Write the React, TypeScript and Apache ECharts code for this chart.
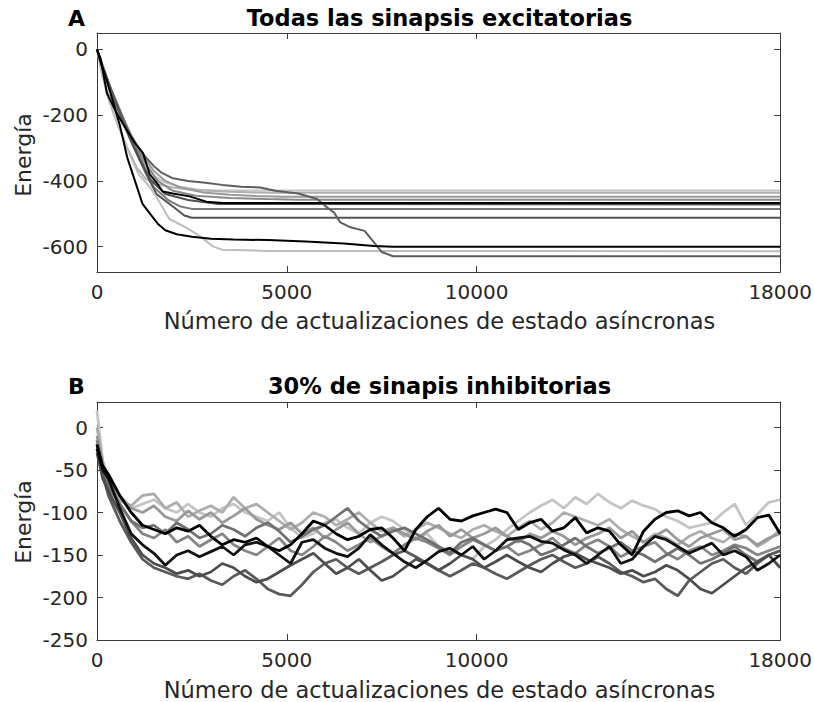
import React, { useEffect, useRef } from "react";
import * as echarts from "echarts";

// ---------- Panel A: all excitatory synapses ----------
const aBlackLow: number[][] = [[0,0],[100,-40],[250,-90],[400,-150],[600,-230],[800,-330],[1000,-400],[1200,-470],[1400,-500],[1600,-530],[1800,-550],[2100,-562],[2500,-570],[3000,-576],[3600,-578],[4500,-580],[5500,-584],[6500,-590],[7300,-598],[7800,-600],[18000,-600]];
const aDarkLong: number[][] = [[0,0],[150,-60],[300,-110],[500,-170],[700,-220],[900,-265],[1100,-300],[1300,-330],[1500,-355],[1700,-375],[2000,-392],[2400,-400],[2800,-405],[3300,-412],[3800,-418],[4300,-420],[4700,-430],[5300,-438],[5800,-455],[6000,-475],[6250,-497],[6400,-525],[6650,-540],[7050,-552],[7250,-580],[7500,-616],[7800,-629],[18000,-629]];
const aLightLow: number[][] = [[0,0],[100,-50],[250,-120],[450,-200],[700,-270],[900,-330],[1100,-380],[1400,-420],[1600,-455],[1900,-515],[2350,-542],[2700,-567],[3050,-599],[3300,-609],[4500,-613],[18000,-614]];
const aDark512: number[][] = [[0,0],[150,-55],[300,-100],[500,-160],[700,-220],[900,-280],[1100,-330],[1300,-380],[1570,-440],[2000,-478],[2300,-505],[2500,-512],[18000,-512]];
const aGray485: number[][] = [[0,0],[150,-50],[350,-115],[600,-185],[850,-255],[1100,-320],[1300,-370],[1500,-420],[1900,-460],[2200,-478],[2500,-485],[18000,-485]];
const aBlackUp: number[][] = [[0,0],[100,-30],[260,-133],[500,-190],[780,-244],[1000,-285],[1210,-315],[1390,-380],[1570,-405],[1730,-432],[2000,-438],[2440,-447],[2880,-463],[3310,-467],[18000,-467]];
const aDark472: number[][] = [[0,0],[150,-55],[350,-125],[600,-195],[850,-265],[1100,-330],[1400,-395],[1800,-440],[2400,-458],[3200,-470],[18000,-472]];
const aGray448: number[][] = [[0,0],[150,-50],[350,-120],[600,-190],[900,-260],[1200,-320],[1500,-370],[1800,-400],[2200,-420],[2800,-435],[3500,-442],[4200,-446],[4900,-448],[18000,-448]];
const aLight429: number[][] = [[0,0],[150,-60],[350,-140],[600,-210],[900,-280],[1200,-340],[1500,-385],[1800,-405],[2200,-418],[2700,-427],[3200,-429],[18000,-429]];
const aLight436: number[][] = [[0,0],[120,-70],[300,-150],[550,-230],[800,-300],[1050,-360],[1300,-395],[1600,-410],[2000,-420],[2600,-428],[3500,-433],[4500,-436],[18000,-436]];
const aGray457: number[][] = [[0,0],[150,-50],[400,-130],[700,-210],[1000,-290],[1300,-350],[1600,-400],[2000,-430],[2600,-445],[3500,-452],[4500,-455],[5300,-457],[18000,-457]];

const aSeries = [
  { data: aLight429, color: "#c4c4c4" },
  { data: aLight436, color: "#b0b0b0" },
  { data: aGray448, color: "#9a9a9a" },
  { data: aGray457, color: "#8a8a8a" },
  { data: aGray485, color: "#787878" },
  { data: aDark512, color: "#555555" },
  { data: aDark472, color: "#505050" },
  { data: aLightLow, color: "#bdbdbd" },
  { data: aDarkLong, color: "#5e5e5e" },
  { data: aBlackUp, color: "#000000" },
  { data: aBlackLow, color: "#000000" },
];

// ---------- Panel B: 30% inhibitory synapses ----------
const bX: number[] = [0,150,300,600,900,1200,1500,1800,2100,2400,2700,3000,3300,3600,3900,4200,4500,4800,5100,5400,5700,6000,6300,6600,6900,7200,7500,7800,8100,8400,8700,9000,9300,9600,9900,10200,10500,10800,11100,11400,11700,12000,12300,12600,12900,13200,13500,13800,14100,14400,14700,15000,15300,15600,15900,16200,16500,16800,17100,17400,17700,18000];
const b1: number[] = [-20,-45,-55,-80,-100,-115,-120,-125,-118,-122,-115,-128,-138,-132,-135,-130,-140,-145,-138,-125,-110,-115,-125,-132,-128,-120,-118,-130,-145,-120,-105,-95,-108,-110,-104,-100,-96,-100,-120,-112,-108,-122,-118,-106,-124,-118,-122,-138,-150,-122,-108,-100,-98,-104,-100,-112,-118,-128,-120,-106,-103,-125];
const b2: number[] = [-25,-50,-60,-95,-125,-138,-148,-162,-150,-145,-152,-146,-140,-150,-138,-135,-140,-150,-160,-135,-132,-142,-148,-152,-142,-126,-138,-148,-158,-165,-156,-146,-142,-150,-140,-155,-145,-132,-130,-128,-134,-136,-144,-150,-160,-150,-140,-160,-155,-140,-128,-132,-140,-148,-142,-136,-150,-145,-152,-168,-160,-150];
const b3: number[] = [20,-40,-65,-85,-95,-90,-85,-95,-100,-90,-100,-105,-95,-90,-100,-105,-110,-100,-118,-130,-125,-112,-108,-118,-125,-112,-105,-110,-120,-130,-125,-140,-145,-150,-155,-140,-132,-120,-110,-100,-92,-85,-95,-82,-90,-78,-88,-95,-86,-92,-96,-105,-110,-118,-115,-112,-100,-90,-115,-102,-88,-85];
const b4: number[] = [0,-40,-60,-85,-92,-80,-78,-95,-88,-105,-98,-92,-100,-82,-95,-90,-100,-110,-120,-112,-100,-105,-115,-108,-100,-112,-122,-118,-128,-120,-112,-118,-125,-130,-120,-115,-122,-128,-118,-110,-120,-112,-100,-105,-110,-115,-108,-120,-128,-135,-125,-130,-138,-128,-122,-130,-135,-125,-128,-140,-132,-120];
const b5: number[] = [-10,-45,-60,-80,-95,-100,-92,-105,-110,-98,-108,-100,-112,-104,-95,-108,-115,-120,-112,-125,-118,-130,-120,-112,-125,-135,-128,-118,-125,-132,-122,-115,-128,-120,-130,-125,-118,-128,-135,-125,-130,-122,-128,-138,-130,-125,-118,-130,-122,-135,-128,-120,-132,-140,-130,-125,-120,-132,-128,-138,-130,-125];
const b6: number[] = [-15,-50,-65,-90,-110,-125,-130,-120,-135,-128,-140,-132,-125,-138,-145,-150,-140,-130,-145,-150,-140,-128,-135,-145,-138,-130,-140,-148,-138,-130,-135,-142,-150,-140,-132,-138,-145,-140,-150,-145,-138,-130,-142,-148,-138,-132,-140,-152,-145,-140,-135,-148,-155,-145,-140,-150,-145,-138,-142,-150,-145,-140];
const b7: number[] = [-20,-55,-80,-110,-135,-155,-165,-170,-175,-178,-172,-180,-185,-175,-168,-178,-190,-196,-198,-185,-170,-160,-155,-165,-172,-165,-158,-150,-145,-152,-160,-168,-175,-168,-160,-165,-172,-178,-170,-162,-155,-150,-158,-165,-160,-152,-160,-170,-175,-182,-178,-190,-198,-180,-170,-160,-155,-165,-172,-160,-150,-145];
const b8: number[] = [-30,-60,-75,-100,-130,-150,-160,-165,-172,-168,-175,-170,-160,-165,-175,-182,-178,-170,-162,-155,-148,-160,-172,-165,-155,-168,-180,-175,-165,-155,-160,-168,-160,-150,-155,-165,-158,-150,-158,-165,-170,-160,-152,-148,-155,-160,-165,-172,-168,-175,-170,-162,-168,-178,-190,-195,-185,-175,-165,-158,-150,-165];
const b9: number[] = [-25,-50,-70,-90,-110,-118,-115,-125,-112,-120,-130,-125,-115,-120,-128,-118,-112,-122,-135,-128,-120,-115,-105,-95,-110,-120,-128,-122,-118,-125,-132,-140,-148,-135,-130,-138,-145,-140,-132,-138,-150,-145,-138,-130,-140,-148,-142,-135,-145,-150,-158,-150,-142,-150,-160,-155,-148,-140,-150,-158,-150,-145];

const bSeries = [
  { data: b3, color: "#c4c4c4" },
  { data: b4, color: "#adadad" },
  { data: b5, color: "#999999" },
  { data: b6, color: "#858585" },
  { data: b9, color: "#707070" },
  { data: b7, color: "#5a5a5a" },
  { data: b8, color: "#4d4d4d" },
  { data: b2, color: "#111111" },
  { data: b1, color: "#000000" },
];

// ---------- Ticks and texts ----------
const xTicks = [0, 5000, 10000, 18000];
const aYTicks = [-600, -400, -200, 0];
const bYTicks = [-250, -200, -150, -100, -50, 0];
const titleA = "Todas las sinapsis excitatorias";
const titleB = "30% de sinapis inhibitorias";
const xName = "Número de actualizaciones de estado asíncronas";
const yName = "Energía";

const FONT = '"DejaVu Sans", sans-serif';
const AXIS_COLOR = "#3a3a3a";
const TEXT_COLOR = "#262626";

function xAx(grid: number, pos: "bottom" | "top") {
  return {
    type: "value",
    gridIndex: grid,
    position: pos,
    min: 0,
    max: 18000,
    axisLine: { show: true, onZero: false, lineStyle: { color: AXIS_COLOR, width: 1 } },
    axisTick: { show: true, inside: true, length: 6, customValues: xTicks, lineStyle: { color: AXIS_COLOR } },
    axisLabel: {
      show: pos === "bottom",
      customValues: xTicks,
      formatter: (v: number) => String(v),
      fontFamily: FONT,
      fontSize: 20,
      color: TEXT_COLOR,
      margin: 10,
    },
    splitLine: { show: false },
  };
}

function yAx(grid: number, pos: "left" | "right", min: number, max: number, ticks: number[]) {
  return {
    type: "value",
    gridIndex: grid,
    position: pos,
    min,
    max,
    axisLine: { show: true, onZero: false, lineStyle: { color: AXIS_COLOR, width: 1 } },
    axisTick: { show: true, inside: true, length: 6, customValues: ticks, lineStyle: { color: AXIS_COLOR } },
    axisLabel: {
      show: pos === "left",
      customValues: ticks,
      formatter: (v: number) => String(v),
      fontFamily: FONT,
      fontSize: 20,
      color: TEXT_COLOR,
      margin: 9,
    },
    splitLine: { show: false },
  };
}

function txt(text: string, x: number, y: number, font: string, fill: string, align = "center", rotation = 0) {
  return {
    type: "text",
    x,
    y,
    rotation,
    silent: true,
    style: { text, font, fill, align, verticalAlign: "middle", textAlign: align, textVerticalAlign: "middle" },
  };
}

export default function App() {
  const ref = useRef<HTMLDivElement>(null);
  useEffect(() => {
    if (!ref.current) return;
    const chart = echarts.init(ref.current, undefined, { renderer: "svg" });
    const series: any[] = [];
    aSeries.forEach((s) =>
      series.push({
        type: "line",
        xAxisIndex: 0,
        yAxisIndex: 0,
        data: s.data,
        showSymbol: false,
        symbol: "none",
        lineStyle: { color: s.color, width: 2 },
        itemStyle: { color: s.color },
        z: 2,
      })
    );
    bSeries.forEach((s) =>
      series.push({
        type: "line",
        xAxisIndex: 2,
        yAxisIndex: 2,
        data: bX.map((x, i) => [x, s.data[i]]),
        showSymbol: false,
        symbol: "none",
        lineStyle: { color: s.color, width: 2.8 },
        itemStyle: { color: s.color },
        z: 2,
      })
    );
    chart.setOption({
      animation: false,
      backgroundColor: "#ffffff",
      grid: [
        { left: 97, top: 33, width: 685, height: 239 },
        { left: 97, top: 402, width: 685, height: 238 },
      ],
      xAxis: [xAx(0, "bottom"), xAx(0, "top"), xAx(1, "bottom"), xAx(1, "top")],
      yAxis: [
        yAx(0, "left", -677, 50, aYTicks),
        yAx(0, "right", -677, 50, aYTicks),
        yAx(1, "left", -250, 30, bYTicks),
        yAx(1, "right", -250, 30, bYTicks),
      ],
      series,
      graphic: [
        txt("A", 68, 18, `bold 22px ${FONT}`, "#000000", "left"),
        txt(titleA, 439.5, 18, `bold 22.5px ${FONT}`, "#000000"),
        txt("B", 68, 386, `bold 22px ${FONT}`, "#000000", "left"),
        txt(titleB, 439.5, 386, `bold 22.5px ${FONT}`, "#000000"),
        txt(xName, 439.5, 321, `22.5px ${FONT}`, TEXT_COLOR),
        txt(xName, 439.5, 690, `22.5px ${FONT}`, TEXT_COLOR),
        txt(yName, 23, 155, `22px ${FONT}`, TEXT_COLOR, "center", Math.PI / 2),
        txt(yName, 23, 522, `22px ${FONT}`, TEXT_COLOR, "center", Math.PI / 2),
      ],
    });
    return () => chart.dispose();
  }, []);
  return <div ref={ref} style={{ position: "absolute", left: 0, top: 0, width: 815, height: 702 }} />;
}
